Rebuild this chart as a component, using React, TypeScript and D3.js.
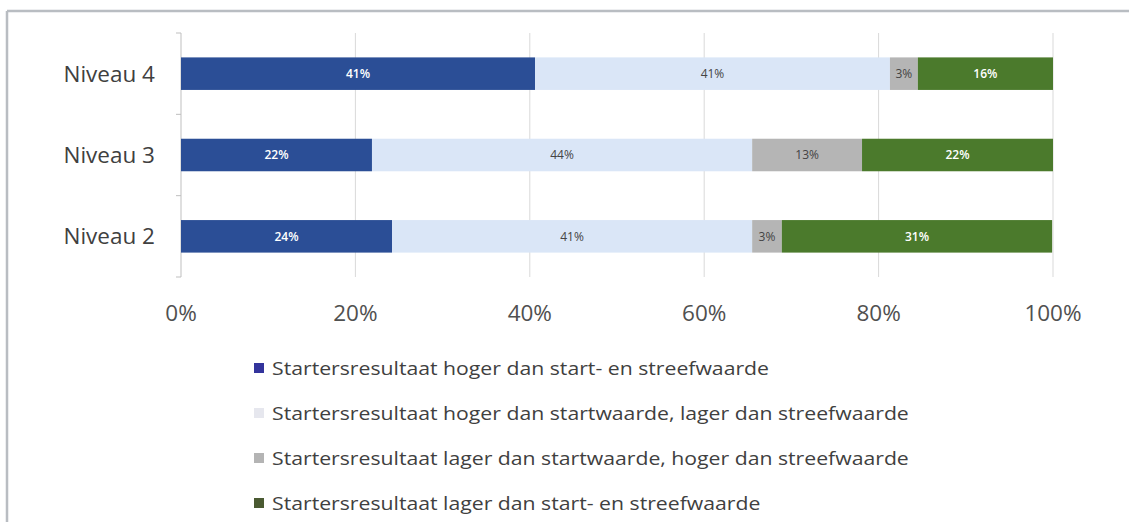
import React from "react";
import * as d3 from "d3";

const categories = ["Niveau 4", "Niveau 3", "Niveau 2"];
const seriesNames = [
  "Startersresultaat hoger dan start- en streefwaarde",
  "Startersresultaat hoger dan startwaarde, lager dan streefwaarde",
  "Startersresultaat lager dan startwaarde, hoger dan streefwaarde",
  "Startersresultaat lager dan start- en streefwaarde",
];
const hogerBeide = [40.6, 21.9, 24.2];
const hogerStart = [40.7, 43.6, 41.3];
const lagerStart = [3.2, 12.6, 3.4];
const lagerBeide = [15.5, 21.9, 31.0];
const xTicks = [0, 20, 40, 60, 80, 100];

const barColors = ["#2b4e96", "#dae6f7", "#b5b5b5", "#4b7a2c"];
const legendColors = ["#33349c", "#e6e7ee", "#b4b4b4", "#4a5a32"];
const labelColors = ["#ffffff", "#444444", "#444444", "#ffffff"];

const W = 1129;
const H = 522;
const FONT = "'Open Sans', Lato, sans-serif";

export default function App() {
  const series = [hogerBeide, hogerStart, lagerStart, lagerBeide];
  const x = d3.scaleLinear().domain([0, 100]).range([181, 1053]);
  const y = d3.scaleBand().domain(categories).range([33, 277]).paddingInner(0.6).paddingOuter(0.3);
  const bandY = d3.scaleBand().domain(categories).range([33, 277]);

  const rows = categories.map((c, i) => {
    let acc = 0;
    return series.map((s, k) => {
      const v0 = acc;
      acc += s[i];
      return { cat: c, k, v0, v1: acc, v: s[i] };
    });
  });

  const boundaries = [33, ...categories.map((c) => (bandY(c) as number) + bandY.bandwidth())];

  return (
    <svg width={W} height={H} style={{ position: "absolute", left: 0, top: 0, background: "#fff" }}>
      <rect x={0} y={0} width={W} height={H} fill="#fff" />
      <line x1={7} y1={11} x2={W} y2={11} stroke="#b9bdc2" strokeWidth={2.5} />
      <line x1={7} y1={11} x2={7} y2={H} stroke="#b9bdc2" strokeWidth={2.5} />

      {xTicks.slice(1).map((t) => (
        <line key={t} x1={x(t)} x2={x(t)} y1={33} y2={277} stroke="#d9d9d9" strokeWidth={1} />
      ))}
      <line x1={181} x2={181} y1={33} y2={277} stroke="#bfbfbf" strokeWidth={1} />
      {boundaries.map((b, i) => (
        <line key={i} x1={176} x2={181} y1={b} y2={b} stroke="#bfbfbf" strokeWidth={1} />
      ))}

      {rows.map((segs) =>
        segs.map((s) => (
          <rect
            key={s.cat + s.k}
            x={x(s.v0)}
            y={y(s.cat)}
            width={x(s.v1) - x(s.v0)}
            height={y.bandwidth()}
            fill={barColors[s.k]}
          />
        ))
      )}
      {rows.map((segs) =>
        segs.map((s) => (
          <text
            key={"l" + s.cat + s.k}
            x={(x(s.v0) + x(s.v1)) / 2}
            y={(y(s.cat) as number) + y.bandwidth() / 2}
            dy="0.35em"
            textAnchor="middle"
            fontFamily={FONT}
            fontSize={12}
            fontWeight={s.k === 0 || s.k === 3 ? 600 : 400}
            fill={labelColors[s.k]}
          >
            {Math.round(s.v) + "%"}
          </text>
        ))
      )}

      {categories.map((c) => (
        <text
          key={c}
          x={155}
          y={(y(c) as number) + y.bandwidth() / 2}
          dy="0.35em"
          textAnchor="end"
          fontFamily={FONT}
          fontSize={22.5}
          fill="#404040"
        >
          {c}
        </text>
      ))}

      {xTicks.map((t) => (
        <text
          key={t}
          x={x(t)}
          y={313}
          dy="0.35em"
          textAnchor="middle"
          fontFamily={FONT}
          fontSize={22.5}
          fill="#505050"
        >
          {t + "%"}
        </text>
      ))}

      {seriesNames.map((n, i) => {
        const cy = 368 + i * 45;
        return (
          <g key={n}>
            <rect x={254} y={cy - 5} width={10} height={10} fill={legendColors[i]} />
            <g transform={`translate(272,${cy}) scale(1.117,1)`}>
              <text x={0} y={0} dy="0.35em" fontFamily={FONT} fontSize={19} fill="#404040">
                {n}
              </text>
            </g>
          </g>
        );
      })}
    </svg>
  );
}
